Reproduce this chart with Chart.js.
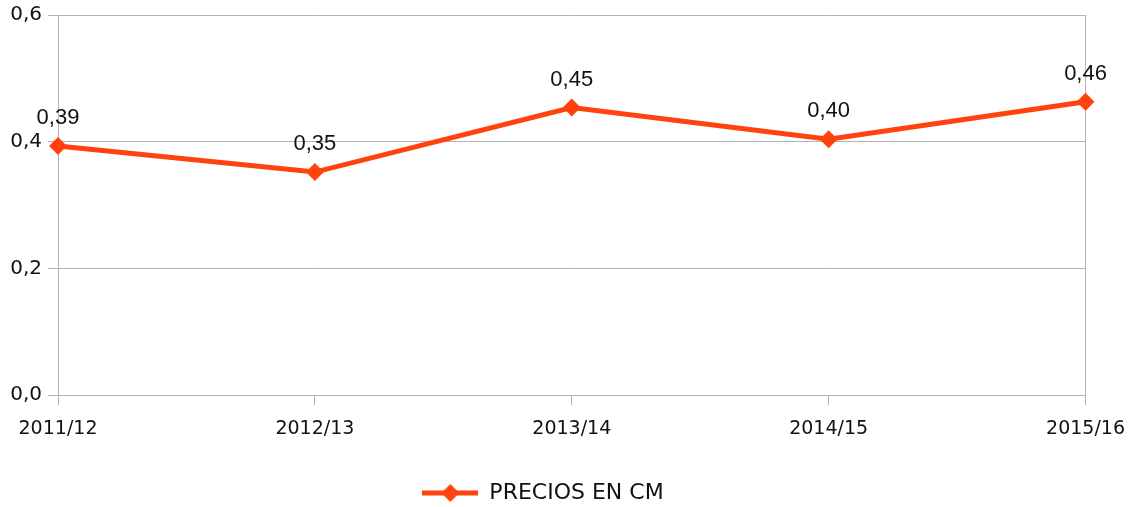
<!DOCTYPE html>
<html>
<head>
<meta charset="utf-8">
<script src="https://cdn.jsdelivr.net/npm/chart.js@4.4.1/dist/chart.umd.min.js"></script>
<style>
  html, body { margin: 0; padding: 0; background: #fff; }
  #wrap { width: 1138px; height: 507px; }
</style>
</head>
<body>
<div id="wrap"><canvas id="lineChart" width="1138" height="507"></canvas></div>
<script>
// datos
var categorias = ['2011/12', '2012/13', '2013/14', '2014/15', '2015/16'];
var precios = [0.393, 0.352, 0.454, 0.404, 0.463];
var serieNombre = 'PRECIOS EN CM';
var yMin = 0, yMax = 0.6, yPaso = 0.2;

var naranja = '#ff420e';
var gris = '#b3b3b3';

function coma(v, d) {
    return v.toFixed(d).replace('.', ',');
}

// icono de la leyenda: linea + rombo
var icono = document.createElement('canvas');
icono.width = 56;
icono.height = 20;
var ic = icono.getContext('2d');
ic.strokeStyle = naranja;
ic.lineWidth = 5;
ic.beginPath();
ic.moveTo(0, 10);
ic.lineTo(56, 10);
ic.stroke();
ic.fillStyle = naranja;
ic.beginPath();
ic.moveTo(28 - 9, 10);
ic.lineTo(28, 1);
ic.lineTo(28 + 9, 10);
ic.lineTo(28, 19);
ic.closePath();
ic.fill();

// etiquetas de datos
var etiquetas = {
    id: 'etiquetas',
    afterDatasetsDraw: function(chart) {
        var ctx = chart.ctx;
        var meta = chart.getDatasetMeta(0);
        ctx.save();
        ctx.font = '22px "Liberation Sans", Arial, sans-serif';
        ctx.fillStyle = '#111';
        ctx.textAlign = 'center';
        ctx.textBaseline = 'middle';
        meta.data.forEach(function(p, i) {
            ctx.fillText(coma(precios[i], 2), p.x, p.y - 28);
        });
        ctx.restore();
    }
};

var ctxLine = document.getElementById('lineChart').getContext('2d');
var lineChart = new Chart(ctxLine, {
    type: 'line',
    data: {
        labels: categorias,
        datasets: [{
            label: serieNombre,
            data: precios,
            borderColor: naranja,
            backgroundColor: naranja,
            borderWidth: 5,
            pointStyle: 'rectRot',
            pointRadius: 9,
            pointBorderWidth: 0,
            pointBackgroundColor: naranja,
            tension: 0,
            fill: false
        }]
    },
    options: {
        responsive: false,
        animation: false,
        layout: {
            padding: { top: 13, right: 52, left: 0, bottom: -7 }
        },
        scales: {
            x: {
                offset: false,
                grid: {
                    drawOnChartArea: false,
                    color: gris,
                    tickLength: 10
                },
                border: { display: true, color: gris },
                ticks: {
                    color: '#111',
                    padding: 13,
                    maxRotation: 0,
                    font: { family: '"DejaVu Sans", sans-serif', size: 19 }
                },
                afterFit: function(scale) { scale.height = 82; }
            },
            y: {
                min: yMin,
                max: yMax,
                grid: {
                    color: gris,
                    tickLength: 10
                },
                border: { display: true, color: gris },
                ticks: {
                    stepSize: yPaso,
                    color: '#111',
                    padding: 6,
                    font: { family: '"DejaVu Sans", sans-serif', size: 20, lineHeight: 0.9 },
                    callback: function(v) { return coma(v, 1); }
                },
                afterFit: function(scale) { scale.width = 58; }
            },
            yDer: {
                position: 'right',
                min: yMin,
                max: yMax,
                grid: { display: false },
                ticks: { display: false },
                border: { display: true, color: gris },
                afterFit: function(scale) { scale.width = 0; }
            }
        },
        plugins: {
            legend: {
                display: true,
                position: 'bottom',
                labels: {
                    usePointStyle: true,
                    pointStyle: icono,
                    pointStyleWidth: 56,
                    boxHeight: 20,
                    padding: 5,
                    color: '#111',
                    font: { family: '"DejaVu Sans", sans-serif', size: 22 }
                }
            },
            tooltip: { enabled: false }
        }
    },
    plugins: [etiquetas]
});
</script>
</body>
</html>
